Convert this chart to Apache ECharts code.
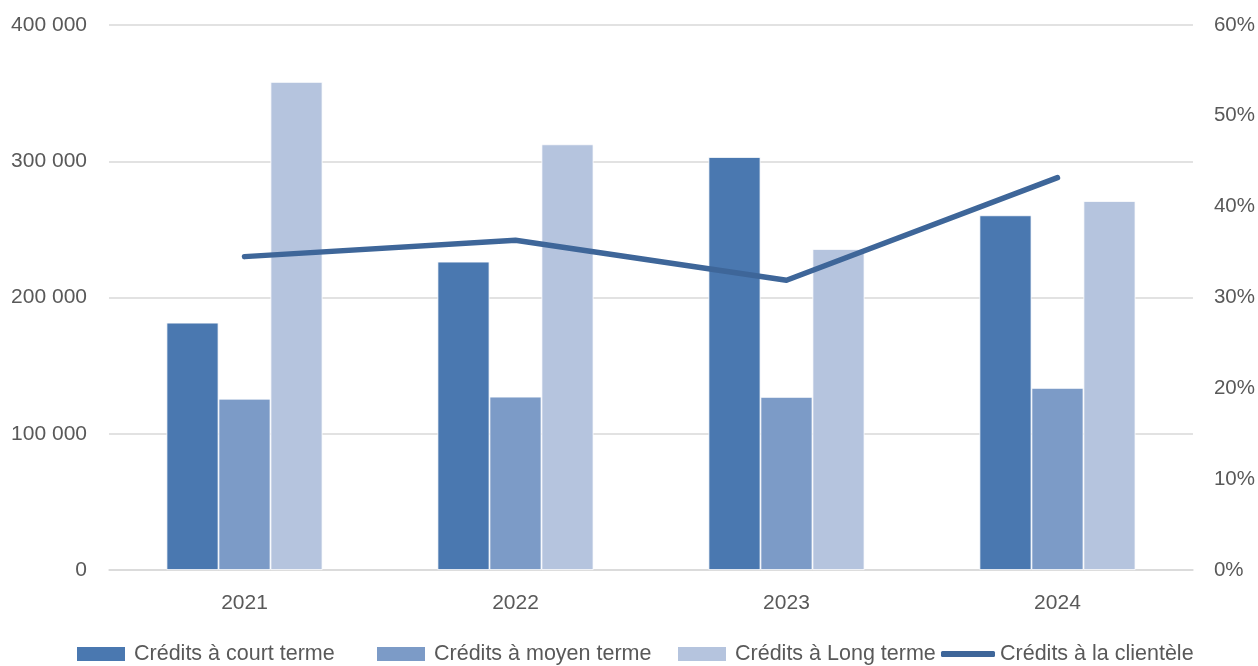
<!DOCTYPE html>
<html>
<head>
<meta charset="utf-8">
<script src="https://cdn.jsdelivr.net/npm/echarts@6/dist/echarts.min.js"></script>
<style>html,body{margin:0;padding:0;background:#fff}#c{width:1258px;height:666px}</style>
</head>
<body>
<div id="c"></div>
<script>
const categories = ['2021', '2022', '2023', '2024'];
const courtTerme = [181500, 226300, 303100, 260300];
const moyenTerme = [125700, 127200, 127000, 133600];
const longTerme = [358200, 312400, 235600, 270800];
const clientele = [34.5, 36.3, 31.9, 43.2];
const leftTicks = [0, 100000, 200000, 300000, 400000];
const rightTicks = [0, 10, 20, 30, 40, 50, 60];
const seriesNames = ['Crédits à court terme', 'Crédits à moyen terme', 'Crédits à Long terme', 'Crédits à la clientèle'];

const fmt = v => String(v).replace(/\B(?=(\d{3})+(?!\d))/g, ' ');
const font = 'Liberation Sans';
const legendLefts = [75, 375, 676, 941];
const legends = seriesNames.map((n, i) => ({
  top: 643,
  left: legendLefts[i],
  padding: 0,
  itemWidth: i === 3 ? 54 : 50,
  itemHeight: i === 3 ? 6 : 16,
  textStyle: { fontSize: 21.5, color: '#595959', fontFamily: font, padding: [0, 0, 0, i === 3 ? 0 : 3] },
  data: [{ name: n, icon: i === 3 ? 'roundRect' : 'rect' }]
}));

const chart = echarts.init(document.getElementById('c'));
chart.setOption({
  animation: false,
  textStyle: { fontFamily: font },
  grid: { left: 109, right: 65, top: 25, bottom: 96, containLabel: false },
  legend: legends,
  xAxis: {
    type: 'category',
    data: categories,
    axisTick: { show: false },
    axisLine: { lineStyle: { color: '#d9d9d9', width: 1.5 } },
    axisLabel: { fontSize: 21, color: '#595959', margin: 23 }
  },
  yAxis: [
    {
      type: 'value', min: leftTicks[0], max: leftTicks[leftTicks.length - 1], interval: 100000,
      axisLabel: { formatter: fmt, fontSize: 21, color: '#595959', margin: 22 },
      splitLine: { lineStyle: { color: '#d9d9d9', width: 1.5 } },
      axisLine: { show: false }, axisTick: { show: false }
    },
    {
      type: 'value', min: rightTicks[0], max: rightTicks[rightTicks.length - 1], interval: 10,
      axisLabel: { formatter: '{value}%', fontSize: 20.5, color: '#595959', margin: 21 },
      splitLine: { show: false },
      axisLine: { show: false }, axisTick: { show: false }
    }
  ],
  series: [
    { name: seriesNames[0], type: 'bar', data: courtTerme, barWidth: 52, barGap: '0%',
      itemStyle: { color: '#4A78B0', borderColor: '#ffffff', borderWidth: 0.8 } },
    { name: seriesNames[1], type: 'bar', data: moyenTerme, barWidth: 52, barGap: '0%',
      itemStyle: { color: '#7C9BC7', borderColor: '#ffffff', borderWidth: 0.8 } },
    { name: seriesNames[2], type: 'bar', data: longTerme, barWidth: 52, barGap: '0%',
      itemStyle: { color: '#B5C4DE', borderColor: '#ffffff', borderWidth: 0.8 } },
    { name: seriesNames[3], type: 'line', yAxisIndex: 1, data: clientele,
      symbol: 'none', lineStyle: { color: '#3E6699', width: 5.5, cap: 'round', join: 'round' },
      itemStyle: { color: '#3E6699' } }
  ]
});
</script>
</body>
</html>
